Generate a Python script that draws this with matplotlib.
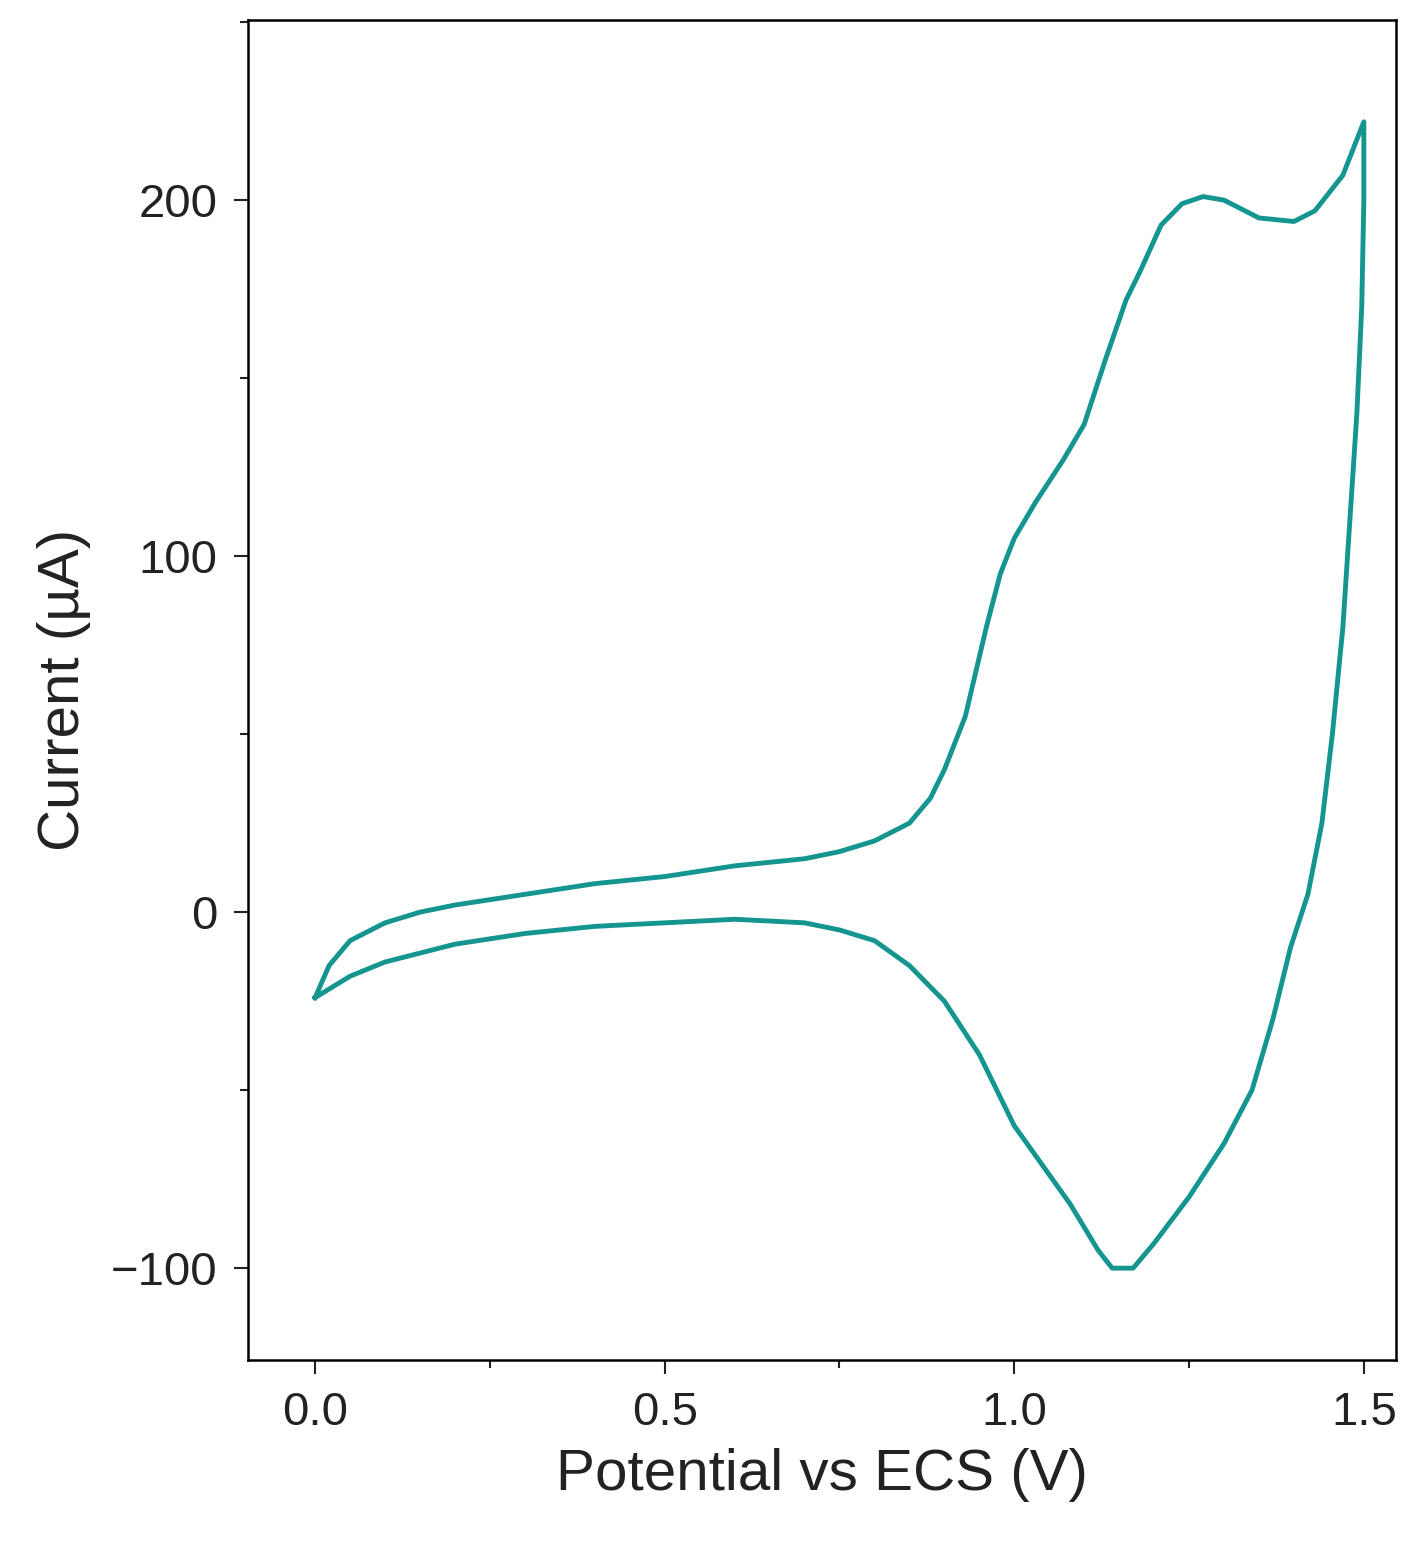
import matplotlib
matplotlib.use("Agg")
import matplotlib.pyplot as plt
from matplotlib.ticker import MultipleLocator

fwd_x = [0,0.02,0.05,0.1,0.15,0.2,0.3,0.4,0.5,0.6,0.7,0.75,0.8,0.85,0.88,0.9,0.93,0.96,0.98,1.0,1.03,1.07,1.1,1.13,1.16,1.18,1.21,1.24,1.27,1.3,1.35,1.4,1.43,1.47,1.5]
fwd_y = [-24,-15,-8,-3,0,2,5,8,10,13,15,17,20,25,32,40,55,80,95,105,115,127,137,155,172,180,193,199,201,200,195,194,197,207,222]
rev_x = [1.5,1.5,1.497,1.49,1.48,1.47,1.455,1.44,1.42,1.395,1.37,1.34,1.3,1.25,1.2,1.17,1.14,1.12,1.08,1.0,0.95,0.9,0.85,0.8,0.75,0.7,0.6,0.5,0.4,0.3,0.2,0.1,0.05,0]
rev_y = [222,200,170,140,110,80,50,25,5,-10,-30,-50,-65,-80,-93,-100,-100,-95,-82,-60,-40,-25,-15,-8,-5,-3,-2,-3,-4,-6,-9,-14,-18,-24]

plt.rcParams['font.family'] = ['Liberation Sans', 'DejaVu Sans']
fig = plt.figure(figsize=(14.18, 15.54), dpi=100)
ax = fig.add_axes([248/1418, 1-1360/1554, (1396-248)/1418, (1360-20)/1554])
c = '#14958f'
ax.plot(fwd_x + rev_x, fwd_y + rev_y, color=c, lw=3.5)
ax.set_xlim(-0.096, 1.546)
ax.set_ylim(-125.8, 250.6)
ax.xaxis.set_major_locator(MultipleLocator(0.5))
ax.xaxis.set_minor_locator(MultipleLocator(0.25))
ax.yaxis.set_major_locator(MultipleLocator(100))
ax.yaxis.set_minor_locator(MultipleLocator(50))
ax.xaxis.set_major_formatter(plt.FuncFormatter(lambda v, p: f"{v:.1f}"))
ax.yaxis.set_major_formatter(plt.FuncFormatter(lambda v, p: f"{int(v)}".replace('-', '\u2212')))
ax.tick_params(which='both', direction='out', width=1.5, labelsize=34, colors='#222222', pad=12)
ax.tick_params(which='major', length=10)
ax.tick_params(which='minor', length=6)
for s in ax.spines.values():
    s.set_linewidth(1.8)
ax.set_xlabel('Potential vs ECS (V)', fontsize=42, color='#222222', labelpad=10)
ax.set_ylabel('Current (µA)', fontsize=42, color='#222222', labelpad=14)
fig.savefig('out.png', dpi=100)
